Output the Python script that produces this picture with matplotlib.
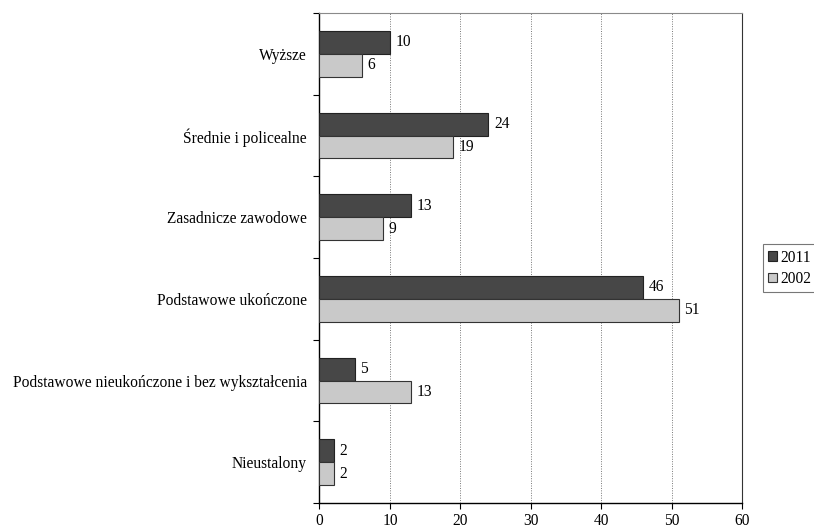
import numpy as np
import matplotlib.pyplot as plt

plt.rcParams['font.family'] = ['Liberation Serif', 'DejaVu Serif']

categories = ['Wyższe', 'Średnie i policealne', 'Zasadnicze zawodowe',
              'Podstawowe ukończone', 'Podstawowe nieukończone i bez wykształcenia',
              'Nieustalony']
v2011 = [10, 24, 13, 46, 5, 2]
v2002 = [6, 19, 9, 51, 13, 2]

fig = plt.figure(figsize=(8.14, 5.28), dpi=100)
ax = fig.add_axes([0.3925, 0.0473, 0.519, 0.928])

n = len(categories)
y = np.arange(n)[::-1]  # first category at the top
h = 0.28
fs = 11.2

b1 = ax.barh(y + h / 2, v2011, height=h, color='#474747', edgecolor='#222222',
             linewidth=0.8, label='2011', zorder=3)
b2 = ax.barh(y - h / 2, v2002, height=h, color='#c9c9c9', edgecolor='#333333',
             linewidth=0.8, label='2002', zorder=3)

for bars in (b1, b2):
    for rect in bars:
        w = rect.get_width()
        ax.text(w + 0.8, rect.get_y() + rect.get_height() / 2, f'{w:g}',
                va='center', ha='left', fontsize=fs)

ax.set_xlim(0, 60)
ax.set_ylim(-0.5, n - 0.5)
ax.set_xticks(np.arange(0, 61, 10))
ax.set_yticks(y)
ax.set_yticklabels(categories, fontsize=fs)
ax.tick_params(axis='y', length=0, pad=9)
ax.tick_params(axis='x', labelsize=fs, direction='out', length=4, width=0.8, pad=3)
# ticks between the category groups
ax.set_yticks(np.arange(n + 1) - 0.5, minor=True)
ax.tick_params(axis='y', which='minor', length=4, width=0.8, direction='out')

for xv in range(10, 60, 10):
    ax.axvline(xv, color='#777777', linestyle=(0, (1, 1.5)), linewidth=0.7, zorder=1)

ax.spines['top'].set_color('#8a8a8a')
ax.spines['right'].set_color('#333333')
for s in ('left', 'bottom'):
    ax.spines[s].set_color('black')
    ax.spines[s].set_linewidth(1.0)

leg = fig.legend(handles=[b1, b2], loc='center left', bbox_to_anchor=(0.937, 0.492),
                 fontsize=fs, frameon=True, fancybox=False, handlelength=0.6,
                 handleheight=0.6, handletextpad=0.2, borderpad=0.35,
                 labelspacing=0.35, borderaxespad=0)
leg.get_frame().set_edgecolor('#555555')
leg.get_frame().set_linewidth(0.8)

fig.savefig('out.png', dpi=100)
